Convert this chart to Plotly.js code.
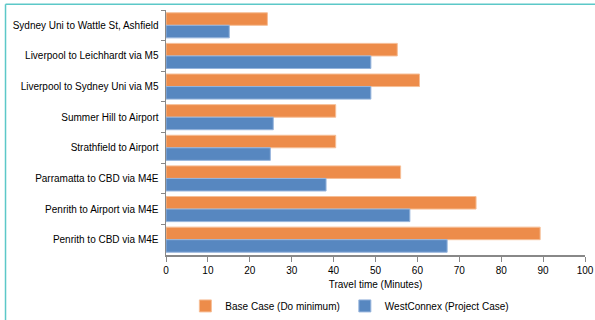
<!DOCTYPE html>
<html>
<head>
<meta charset="utf-8">
<script src="https://cdn.plot.ly/plotly-3.0.1.min.js"></script>
<style>html,body{margin:0;padding:0;background:#fff;}#chart{width:595px;height:320px;}</style>
</head>
<body>
<div id="chart"></div>
<script>
var categories = [
  "Sydney Uni to Wattle St, Ashfield",
  "Liverpool to Leichhardt via M5",
  "Liverpool to Sydney Uni via M5",
  "Summer Hill to Airport",
  "Strathfield to Airport",
  "Parramatta to CBD via M4E",
  "Penrith to Airport via M4E",
  "Penrith to CBD via M4E"
];
var baseCase = [24.2, 55.2, 60.5, 40.5, 40.5, 56.0, 74.0, 89.3];
var westConnex = [15.1, 48.9, 48.9, 25.6, 24.9, 38.2, 58.2, 67.1];
var xTicks = [0, 10, 20, 30, 40, 50, 60, 70, 80, 90, 100];

var traces = [
  {type: 'bar', orientation: 'h', name: 'Base Case (Do minimum)', y: categories, x: baseCase,
   marker: {color: 'rgb(237,140,74)', line: {color: 'rgb(246,190,150)', width: 1}}},
  {type: 'bar', orientation: 'h', name: 'WestConnex (Project Case)', y: categories, x: westConnex,
   marker: {color: 'rgb(87,135,192)', line: {color: 'rgb(150,180,220)', width: 1}}}
];

var layout = {
  width: 595, height: 320,
  margin: {l: 166, r: 10, t: 10, b: 64.5, autoexpand: false},
  paper_bgcolor: '#fff', plot_bgcolor: '#fff',
  font: {family: 'Liberation Sans, Arial, sans-serif', size: 10, color: '#000'},
  barmode: 'group', bargap: 0.18, bargroupgap: 0,
  showlegend: true,
  legend: {orientation: 'h', xref: 'container', yref: 'container', x: 0.588, xanchor: 'center', y: 0.044, yanchor: 'middle',
           font: {size: 10, color: '#000'}, traceorder: 'normal', itemwidth: 30},
  xaxis: {range: [0, 100], tickvals: xTicks, ticktext: xTicks.map(String), showgrid: false, zeroline: false,
          showline: true, linecolor: '#888', linewidth: 1.5, ticks: 'outside', ticklen: 5, tickcolor: '#888',
          tickfont: {size: 10, color: '#000'},
          title: {text: 'Travel time (Minutes)', font: {size: 10, color: '#000'}, standoff: 6}},
  yaxis: {autorange: 'reversed', showgrid: false, zeroline: false, showline: true, linecolor: '#888', linewidth: 1.5,
          ticks: 'outside', ticklen: 4, tickcolor: '#888', tickson: 'boundaries',
          tickfont: {size: 10, color: '#000'}, ticklabelstandoff: 4},
  shapes: [
    {type: 'line', xref: 'paper', yref: 'paper', x0: -0.383, x1: 1.03, y0: 1.0232, y1: 1.0232,
     line: {color: 'rgb(92,200,200)', width: 1.5}},
    {type: 'line', xref: 'paper', yref: 'paper', x0: -0.383, x1: -0.383, y0: 1.0232, y1: -0.3,
     line: {color: 'rgb(92,200,200)', width: 1.5}}
  ]
};
Plotly.newPlot('chart', traces, layout, {displayModeBar: false, staticPlot: true});
</script>
</body>
</html>
